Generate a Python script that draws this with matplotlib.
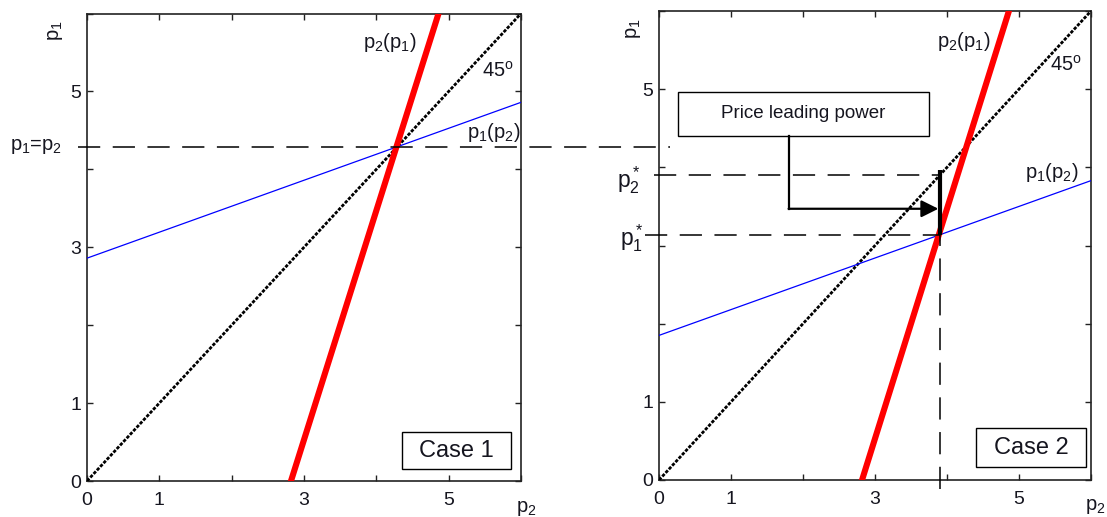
import matplotlib
matplotlib.use("Agg")
import matplotlib.pyplot as plt
from matplotlib.patches import Rectangle

plt.rcParams["font.family"] = ["Liberation Sans", "DejaVu Sans"]
plt.rcParams["mathtext.fontset"] = "custom"
plt.rcParams["mathtext.rm"] = "Liberation Sans"
plt.rcParams["mathtext.it"] = "Liberation Sans"
plt.rcParams["mathtext.bf"] = "Liberation Sans:bold"
plt.rcParams["lines.scale_dashes"] = False

# ---- data -------------------------------------------------------------
tick_pos = [0, 1, 2, 3, 4, 5, 6]
tick_labels_c1 = ["0", "1", "", "3", "", "5", ""]
ytick_labels_c2 = ["0", "1", "", "", "", "5", ""]

# 45-degree line p1 = p2
diag_p2 = [0, 6]
diag_p1 = [0, 6]

# Case 1: reaction functions
c1_react1_p2 = [0, 6]          # p1(p2)
c1_react1_p1 = [2.86, 4.86]
c1_react2_p2 = [2.82, 4.86]    # p2(p1)
c1_react2_p1 = [0, 6]
c1_equal_price = 4.29          # p1 = p2

# Case 2: reaction functions and leader equilibrium
c2_react1_p2 = [0, 6]
c2_react1_p1 = [1.85, 3.83]
c2_react2_p2 = [2.82, 4.86]
c2_react2_p1 = [0, 6]
c2_star_p2 = 3.9               # p2 at the equilibrium
c2_p1_star = 3.13
c2_p2_star = 3.9

# ---- styling ----------------------------------------------------------
TXT = "#15151f"
FS_TICK = 14
FS_LAB = 14.5
DASH = (0, (16, 9))

fig = plt.figure(figsize=(11.07, 5.17), dpi=100)
W, H = 1107, 517
ax1 = fig.add_axes([87 / W, 36 / H, 434 / W, 467.5 / H])
ax2 = fig.add_axes([659 / W, 37 / H, 432 / W, 469 / H])
ax2.set_facecolor("none")

for ax, ylabels in ((ax1, tick_labels_c1), (ax2, ytick_labels_c2)):
    ax.set_xlim(0, 6)
    ax.set_ylim(0, 6)
    ax.set_xticks(tick_pos)
    ax.set_yticks(tick_pos)
    ax.set_xticklabels(tick_labels_c1)
    ax.set_yticklabels(ylabels)
    ax.tick_params(direction="in", length=4, width=1, top=True, right=True,
                   labelsize=FS_TICK, labelcolor=TXT, color="#222222")
    ax.tick_params(axis="x", pad=8)
    ax.tick_params(axis="y", pad=4)
    for s in ax.spines.values():
        s.set_linewidth(1.2)
        s.set_color("#222222")

    ax.plot(diag_p2, diag_p1, color="black", lw=2.0, ls=(0, (2.4, 1.1)),
            zorder=3)

# ---- Case 1 -----------------------------------------------------------
ax1.plot(c1_react1_p2, c1_react1_p1, color="#0000ff", lw=0.9, zorder=3)
ax1.plot(c1_react2_p2, c1_react2_p1, color="#ff0000", lw=4.4, zorder=4)
ax1.plot([-0.125, 8.06], [c1_equal_price, c1_equal_price], color="black",
         lw=1.1, ls=DASH, clip_on=False, zorder=5)

ax1.text(4.18, 5.63, r"$\mathrm{p_2(p_1)}$", fontsize=FS_LAB, color=TXT,
         ha="center", va="center")
ax1.text(5.68, 5.27, r"$\mathrm{45^o}$", fontsize=FS_LAB, color=TXT,
         ha="center", va="center")
ax1.text(5.62, 4.47, r"$\mathrm{p_1(p_2)}$", fontsize=FS_LAB, color=TXT,
         ha="center", va="center")
ax1.text(-0.346, c1_equal_price, r"p$\mathrm{_1}$=p$\mathrm{_2}$",
         fontsize=FS_LAB, color=TXT, ha="right", va="center")
ax1.text(-0.43, 5.78, r"$\mathrm{p_1}$", fontsize=FS_LAB, color=TXT,
         rotation=90, ha="center", va="center")
ax1.text(6.07, -0.35, r"$\mathrm{p_2}$", fontsize=FS_LAB, color=TXT,
         ha="center", va="center")

ax1.add_patch(Rectangle((4.36, 0.15), 1.50, 0.48, fill=False, lw=1.0,
                        ec="black", zorder=6))
ax1.text(5.11, 0.39, "Case 1", fontsize=17, color=TXT, ha="center",
         va="center", zorder=7)

# ---- Case 2 -----------------------------------------------------------
ax2.plot(c2_react1_p2, c2_react1_p1, color="#0000ff", lw=0.9, zorder=3)
ax2.plot(c2_react2_p2, c2_react2_p1, color="#ff0000", lw=4.4, zorder=4)

ax2.plot([-0.07, c2_star_p2], [c2_p2_star, c2_p2_star], color="black",
         lw=1.1, ls=DASH, clip_on=False, zorder=5)
ax2.plot([-0.19, c2_star_p2], [c2_p1_star, c2_p1_star], color="black",
         lw=1.1, ls=DASH, clip_on=False, zorder=5)
ax2.plot([c2_star_p2, c2_star_p2], [-0.12, c2_p1_star], color="black",
         lw=1.1, ls=DASH, clip_on=False, zorder=5)
ax2.plot([c2_star_p2, c2_star_p2], [c2_p1_star, c2_p2_star + 0.07],
         color="black", lw=3.0, solid_capstyle="butt", zorder=6)

ax2.text(4.24, 5.61, r"$\mathrm{p_2(p_1)}$", fontsize=FS_LAB, color=TXT,
         ha="center", va="center")
ax2.text(5.65, 5.31, r"$\mathrm{45^o}$", fontsize=FS_LAB, color=TXT,
         ha="center", va="center")
ax2.text(5.46, 3.94, r"$\mathrm{p_1(p_2)}$", fontsize=FS_LAB, color=TXT,
         ha="center", va="center")
ax2.text(-0.25, c2_p2_star - 0.07, r"$\mathrm{p_2^*}$", fontsize=16.5,
         color=TXT, ha="right", va="center")
ax2.text(-0.22, c2_p1_star - 0.03, r"$\mathrm{p_1^*}$", fontsize=16.5,
         color=TXT, ha="right", va="center")
ax2.text(-0.36, 5.77, r"$\mathrm{p_1}$", fontsize=FS_LAB, color=TXT,
         rotation=90, ha="center", va="center")
ax2.text(6.06, -0.345, r"$\mathrm{p_2}$", fontsize=FS_LAB, color=TXT,
         ha="center", va="center")

# annotation box with the elbow arrow
ax2.add_patch(Rectangle((0.26, 4.40), 3.49, 0.57, fill=False, lw=1.0,
                        ec="black", zorder=6))
ax2.text(2.0, 4.69, "Price leading power", fontsize=13.5, color=TXT,
         ha="center", va="center", zorder=7)
ax2.plot([1.81, 1.81], [4.40, 3.47], color="black", lw=1.6, zorder=6)
ax2.annotate("", xy=(c2_star_p2 - 0.02, 3.47), xytext=(1.80, 3.47),
             arrowprops=dict(arrowstyle="-|>", color="black", lw=1.6,
                             mutation_scale=26, shrinkA=0, shrinkB=0),
             zorder=7)

ax2.add_patch(Rectangle((4.40, 0.17), 1.53, 0.49, fill=False, lw=1.0,
                        ec="black", zorder=6))
ax2.text(5.165, 0.41, "Case 2", fontsize=17, color=TXT, ha="center",
         va="center", zorder=7)

fig.savefig("out.png", dpi=100)
